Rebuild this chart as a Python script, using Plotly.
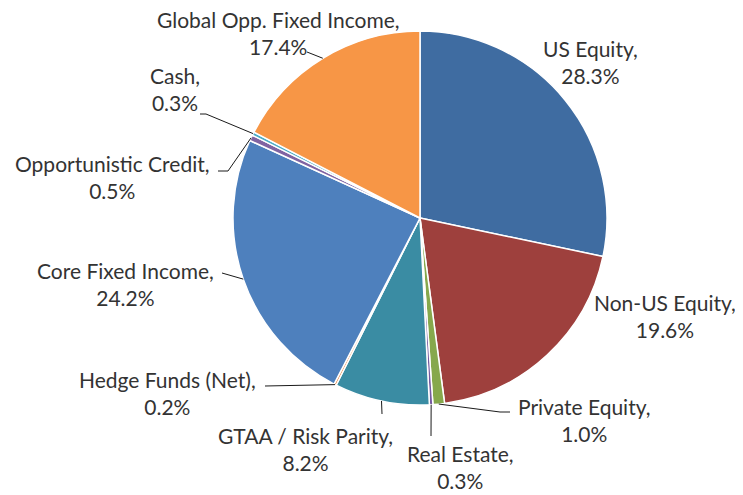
import math
import plotly.graph_objects as go

labels = ["US Equity", "Non-US Equity", "Private Equity", "Real Estate",
          "GTAA / Risk Parity", "Hedge Funds (Net)", "Core Fixed Income",
          "Opportunistic Credit", "Cash", "Global Opp. Fixed Income"]
values = [28.3, 19.6, 1.0, 0.3, 8.2, 0.2, 24.2, 0.5, 0.3, 17.4]
colors = ["#3F6CA1", "#9E403D", "#86A84C", "#7659A0", "#3A8CA3",
          "#E4772F", "#4E80BD", "#8064A2", "#4BACC6", "#F79646"]

# page has an 8px body margin; figure occupies the rest of the window
OFF = 8
W, H = 743 - OFF, 495 - OFF
CX, CY, R = 420, 218, 187

# label centres (window pixels) and leader elbows (window pixels), layout only
label_pos = {
    "US Equity": (590, 62),
    "Non-US Equity": (665, 316),
    "Private Equity": (584, 420),
    "Real Estate": (460, 467),
    "GTAA / Risk Parity": (305, 449),
    "Hedge Funds (Net)": (167, 393),
    "Core Fixed Income": (125, 284),
    "Opportunistic Credit": (112, 177),
    "Cash": (175, 89),
    "Global Opp. Fixed Income": (278, 33),
}
leaders = {
    "Private Equity": [(510, 412), (500, 412)],
    "Real Estate": [(431, 436)],
    "GTAA / Risk Parity": [(382, 414)],
    "Hedge Funds (Net)": [(265, 386)],
    "Core Fixed Income": [(222, 273)],
    "Opportunistic Credit": [(218, 171), (228, 171)],
    "Cash": [(200, 114), (206, 114)],
    "Global Opp. Fixed Income": [(307, 52)],
}

def px(x):
    return (x - OFF) / W

def py(y):
    return 1 - (y - OFF) / H

fig = go.Figure(go.Pie(
    labels=labels, values=values, sort=False, direction="clockwise",
    rotation=0, marker=dict(colors=colors, line=dict(color="white", width=1.5)),
    textinfo="none", hoverinfo="none", showlegend=False,
    domain=dict(x=[px(CX - R), px(CX + R)], y=[py(CY + R), py(CY - R)]),
))

total = sum(values)
cum = 0.0
annotations = []
shapes = []
for lab, v in zip(labels, values):
    mid = (cum + v / 2) / total * 2 * math.pi
    cum += v
    ex = CX + R * math.sin(mid)
    ey = CY - R * math.cos(mid)
    lx, ly = label_pos[lab]
    annotations.append(dict(
        x=px(lx), y=py(ly), xref="paper", yref="paper",
        text=f"{lab},<br>{v:.1f}%", showarrow=False,
        xanchor="center", yanchor="middle", align="center",
        font=dict(family="Lato, sans-serif", size=21, color="#333333"),
    ))
    if lab in leaders:
        pts = leaders[lab] + [(ex, ey)]
        path = "M " + " L ".join(f"{px(a)},{py(b)}" for a, b in pts)
        shapes.append(dict(type="path", xref="paper", yref="paper", path=path,
                           line=dict(color="#1a1a1a", width=1)))

fig.update_layout(
    width=W, height=H, margin=dict(l=0, r=0, t=0, b=0),
    paper_bgcolor="white", plot_bgcolor="white",
    annotations=annotations, shapes=shapes,
)
fig.write_html("out.html")
